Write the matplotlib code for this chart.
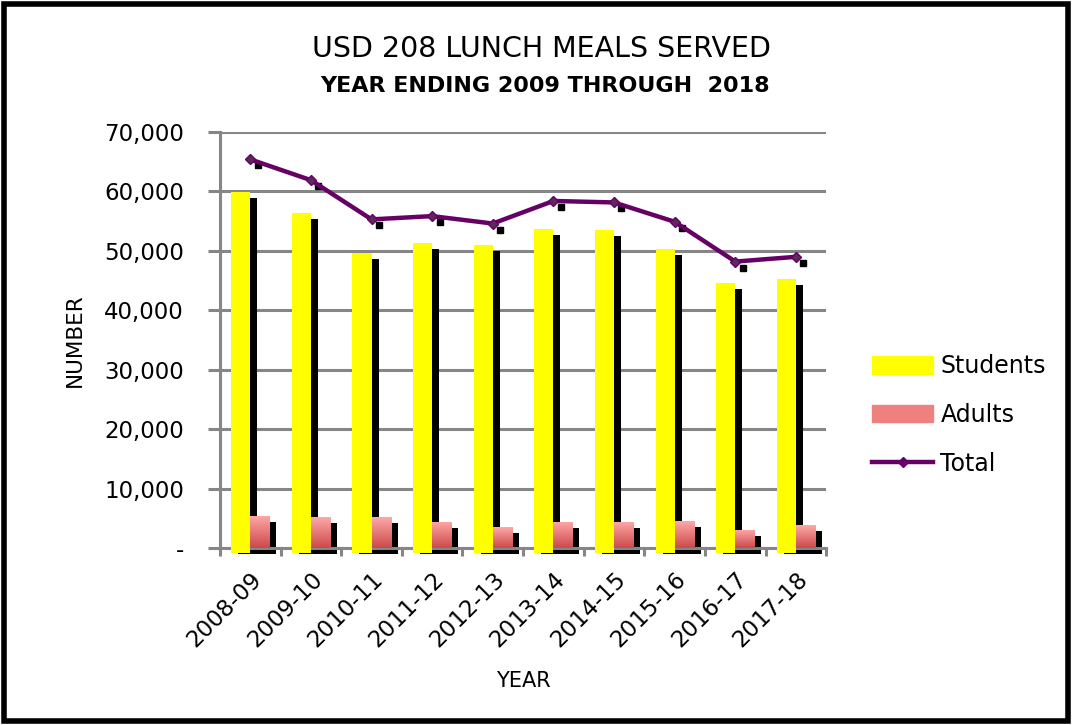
import numpy as np
import matplotlib
matplotlib.use("Agg")
import matplotlib.pyplot as plt
from matplotlib.transforms import offset_copy
from matplotlib.patches import Rectangle, Patch
from matplotlib.lines import Line2D
from matplotlib.ticker import FuncFormatter

years = ["2008-09", "2009-10", "2010-11", "2011-12", "2012-13",
         "2013-14", "2014-15", "2015-16", "2016-17", "2017-18"]
students = [59900, 56400, 49700, 51300, 51000, 53700, 53500, 50300, 44600, 45300]
adults = [5400, 5200, 5150, 4400, 3500, 4400, 4400, 4500, 3100, 3850]
totals = [65400, 61900, 55300, 55850, 54600, 58400, 58150, 54900, 48200, 49000]

plt.rcParams["font.family"] = ["DejaVu Sans"]

fig = plt.figure(figsize=(10.73, 7.25), dpi=100)
ax = fig.add_axes([0.205, 0.2441, 0.565, 0.5738])

x = np.arange(len(years))
w = 0.315
grey = "#868686"

# shadows (offset down-right)
shadow = offset_copy(ax.transData, fig=fig, x=7, y=-6, units="dots")
ax.bar(x - w / 2, students, w, color="black", transform=shadow, zorder=2, clip_on=False)
ax.bar(x + w / 2, adults, w, color="black", transform=shadow, zorder=2, clip_on=False)

# yellow bars run a few pixels under the axis, like the original
ax.bar(x - w / 2, np.array(students) + 800, w, bottom=-800, color="#ffff00",
       zorder=3, clip_on=False)
pink = ax.bar(x + w / 2, adults, w, color="#f08c8c", zorder=3)

# gradient fill for the adult bars
grad = np.linspace(0, 1, 64).reshape(-1, 1)
cmap = matplotlib.colors.LinearSegmentedColormap.from_list("pk", ["#ffa8a8", "#cc4a4a"])
for b in pink:
    x0, y0 = b.get_x(), b.get_y()
    im = ax.imshow(grad, cmap=cmap, aspect="auto", zorder=3.5,
                   extent=[x0, x0 + b.get_width(), y0, y0 + b.get_height()],
                   origin="upper")
    im.set_clip_path(b)

# total line + marker shadows
mshadow = offset_copy(ax.transData, fig=fig, x=5, y=-6, units="dots")
ax.plot(x + 0.04, totals, ls="none", marker="s", ms=5, color="black",
        transform=mshadow, zorder=4)
ax.plot(x, totals, color="#660066", lw=3.2, marker="D", ms=5,
        mfc="#5a2a5a", mec="#660066", zorder=5)

ax.set_xlim(-0.5, len(years) - 0.5)
ax.set_ylim(0, 70000)
ax.set_yticks(np.arange(0, 70001, 10000))
ax.yaxis.set_major_formatter(FuncFormatter(lambda v, p: "-" if v == 0 else f"{int(v):,}"))
ax.grid(axis="y", color=grey, lw=2.2, zorder=0)
ax.set_axisbelow(True)

ax.set_xticks(x)
ax.set_xticklabels(years, rotation=45, ha="right", rotation_mode="anchor", fontsize=16.5)
ax.set_xticks(np.arange(-0.5, len(years)), minor=True)
ax.tick_params(axis="x", which="major", length=0, pad=14)
ax.tick_params(axis="x", which="minor", length=6, width=2.2, color=grey)
ax.tick_params(axis="y", length=9, width=2.2, color=grey, labelsize=16.5, pad=17)

for s in ["top", "right"]:
    ax.spines[s].set_visible(False)
for s in ["left", "bottom"]:
    ax.spines[s].set_color(grey)
    ax.spines[s].set_linewidth(2.2)

ax.set_xlabel("YEAR", fontsize=15, labelpad=14)
ax.set_ylabel("NUMBER", fontsize=15.5, labelpad=14)

fig.text(0.505, 0.933, "USD 208 LUNCH MEALS SERVED", ha="center", va="center", fontsize=20.5)
fig.text(0.508, 0.882, "YEAR ENDING 2009 THROUGH  2018", ha="center", va="center",
         fontsize=16, fontweight="bold")

handles = [Patch(color="#ffff00"), Patch(color="#ee8080"),
           Line2D([], [], color="#660066", lw=3.2, marker="D", ms=5)]
fig.legend(handles, ["Students", "Adults", "Total"], loc="center left",
           bbox_to_anchor=(0.8127, 0.4276), frameon=False, fontsize=17,
           borderpad=0, borderaxespad=0,
           handlelength=2.6, handleheight=0.75, handletextpad=0.3, labelspacing=1.05)

# figure border
fig.patches.append(Rectangle((0.004, 0.005), 0.991, 0.989, transform=fig.transFigure,
                             fill=False, ec="black", lw=4))

fig.savefig("out.png", dpi=100)
